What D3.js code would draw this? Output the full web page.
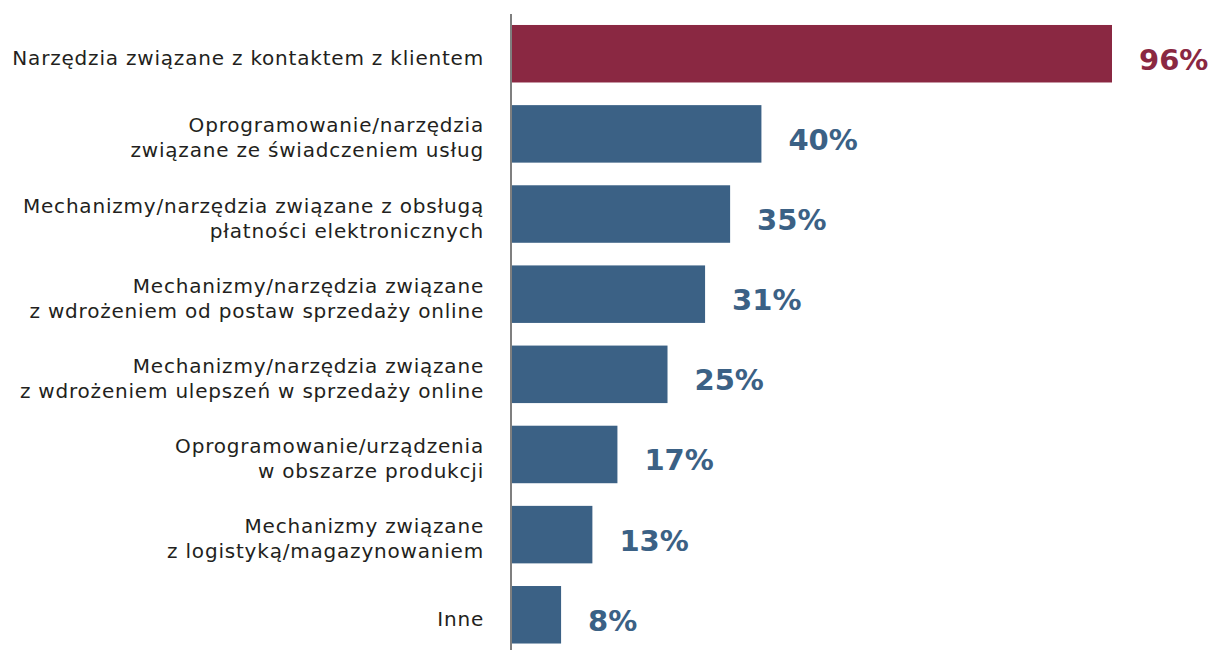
<!DOCTYPE html>
<html>
<head>
<meta charset="utf-8">
<script src="https://cdn.jsdelivr.net/npm/d3@7"></script>
<style>
  body { margin: 0; background: #fff; }
  svg { display: block; }
</style>
</head>
<body>
<svg id="chart" width="1209" height="650"></svg>
<script>
// categories, each split into display lines
var categories = [
  ["Narzędzia związane z kontaktem z klientem"],
  ["Oprogramowanie/narzędzia", "związane ze świadczeniem usług"],
  ["Mechanizmy/narzędzia związane z obsługą", "płatności elektronicznych"],
  ["Mechanizmy/narzędzia związane", "z wdrożeniem od postaw sprzedaży online"],
  ["Mechanizmy/narzędzia związane", "z wdrożeniem ulepszeń w sprzedaży online"],
  ["Oprogramowanie/urządzenia", "w obszarze produkcji"],
  ["Mechanizmy związane", "z logistyką/magazynowaniem"],
  ["Inne"]
];
var values = [96, 40, 35, 31, 25, 17, 13, 8];
var highlight = [true, false, false, false, false, false, false, false];

var data = values.map(function(v, i) {
  return { id: i, lines: categories[i], value: v, hi: highlight[i] };
});

var svg = d3.select("#chart");
var width = 1209, height = 650;
var axisX = 511;

var x = d3.scaleLinear().domain([0, 96]).range([axisX, 1112]);
var y = d3.scaleBand()
  .domain(data.map(function(d) { return d.id; }))
  .range([14, 654.5])
  .paddingInner(0.2825)
  .paddingOuter(0.137);

var red = "#8a2842", blue = "#3b6185";

svg.append("g")
  .selectAll("rect")
  .data(data)
  .enter().append("rect")
  .attr("x", x(0))
  .attr("y", function(d) { return y(d.id); })
  .attr("width", function(d) { return x(d.value) - x(0); })
  .attr("height", y.bandwidth())
  .attr("fill", function(d) { return d.hi ? red : blue; });

// vertical axis line
svg.append("line")
  .attr("x1", axisX).attr("x2", axisX)
  .attr("y1", 14).attr("y2", height)
  .attr("stroke", "#7f7f7f")
  .attr("stroke-width", 2);

// category labels
var labels = svg.append("g")
  .selectAll("text")
  .data(data)
  .enter().append("text")
  .attr("text-anchor", "end")
  .attr("font-family", "'DejaVu Sans', sans-serif")
  .attr("font-size", 20)
  .attr("letter-spacing", 0.8)
  .attr("fill", "#231f20")
  .attr("y", function(d) { return y(d.id) + y.bandwidth() / 2; });

labels.selectAll("tspan")
  .data(function(d) {
    var n = d.lines.length;
    return d.lines.map(function(t, k) { return { t: t, off: (k - (n - 1) / 2) * 25 }; });
  })
  .enter().append("tspan")
  .attr("x", 484)
  .attr("dy", function(l, k) { return k === 0 ? (l.off + 11) : 25; })
  .text(function(l) { return l.t; });

// value labels
svg.append("g")
  .selectAll("text")
  .data(data)
  .enter().append("text")
  .attr("x", function(d) { return x(d.value) + 27; })
  .attr("y", function(d) { return y(d.id) + y.bandwidth() / 2 + 16; })
  .attr("font-family", "'DejaVu Sans', sans-serif")
  .attr("font-weight", "bold")
  .attr("font-size", 29)
  .attr("fill", function(d) { return d.hi ? red : blue; })
  .text(function(d) { return d.value + "%"; });
</script>
</body>
</html>
